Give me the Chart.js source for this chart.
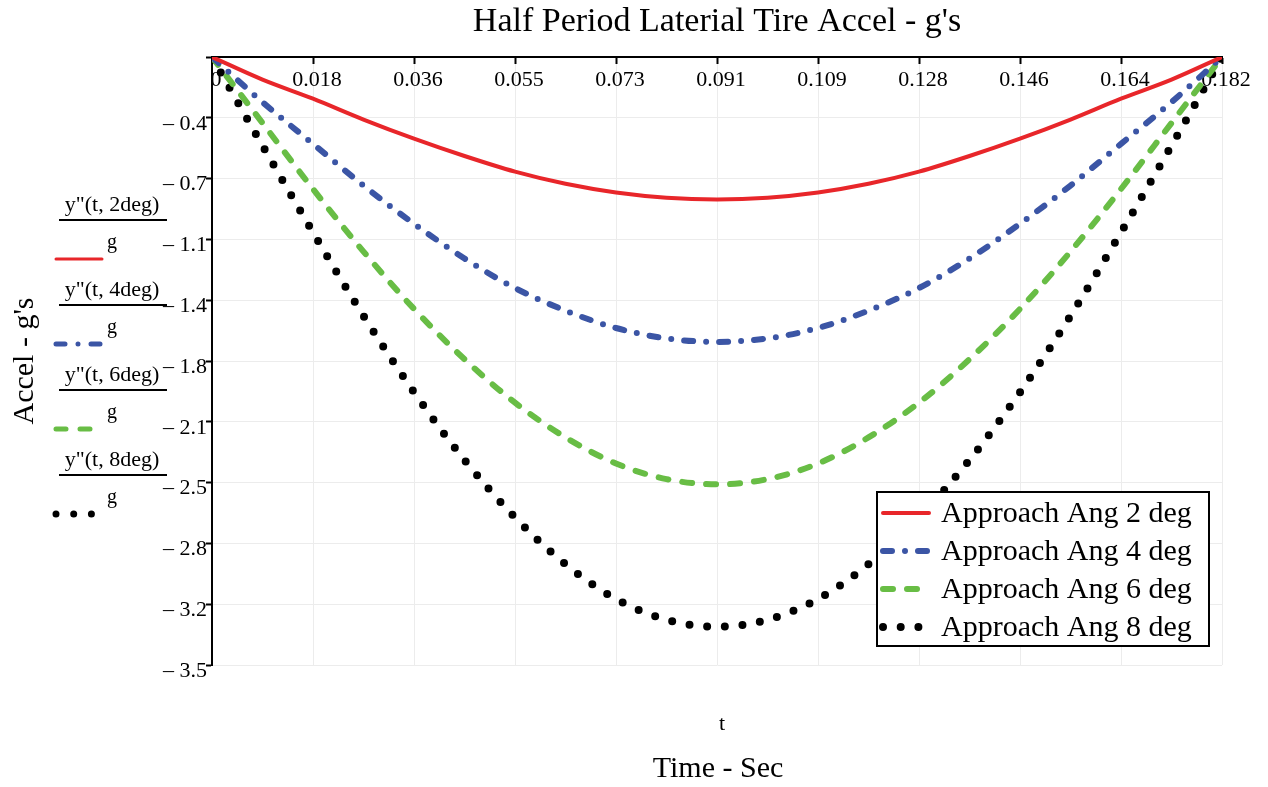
<!DOCTYPE html>
<html>
<head>
<meta charset="utf-8">
<title>Half Period Laterial Tire Accel</title>
<script src="https://cdn.jsdelivr.net/npm/chart.js@4.4.1/dist/chart.umd.min.js"></script>
<style>
  html, body { margin: 0; padding: 0; background: #fff; }
  #wrap { width: 1268px; height: 787px; }
</style>
</head>
<body>
<div id="wrap"><canvas id="accelChart" width="1268" height="787"></canvas></div>
<script>
// sample times (sec) read along the x axis
const timeSec = [0, 0.0091, 0.0182, 0.0273, 0.0364, 0.0455, 0.0546, 0.0637, 0.0728, 0.0819, 0.091,
                 0.1001, 0.1092, 0.1183, 0.1274, 0.1365, 0.1456, 0.1547, 0.1638, 0.1729, 0.182];

// lateral accel in g's
const accel2deg = [0, -0.13, -0.24, -0.36, -0.47, -0.57, -0.66, -0.73, -0.78, -0.81, -0.82,
                   -0.81, -0.78, -0.73, -0.66, -0.57, -0.47, -0.36, -0.24, -0.13, 0];
const accel4deg = [0, -0.26, -0.5, -0.74, -0.96, -1.16, -1.33, -1.46, -1.56, -1.62, -1.64,
                   -1.62, -1.56, -1.46, -1.33, -1.16, -0.96, -0.74, -0.5, -0.26, 0];
const accel6deg = [0, -0.38, -0.76, -1.12, -1.45, -1.74, -1.99, -2.19, -2.34, -2.43, -2.46,
                   -2.43, -2.34, -2.19, -1.99, -1.74, -1.45, -1.12, -0.76, -0.38, 0];
const accel8deg = [0, -0.51, -1.01, -1.49, -1.93, -2.32, -2.65, -2.92, -3.12, -3.24, -3.28,
                   -3.24, -3.12, -2.92, -2.65, -2.32, -1.93, -1.49, -1.01, -0.51, 0];

const seriesLabels  = ['Approach Ang 2 deg', 'Approach Ang 4 deg', 'Approach Ang 6 deg', 'Approach Ang 8 deg'];
const mathcadLabels = ['y"(t, 2deg)', 'y"(t, 4deg)', 'y"(t, 6deg)', 'y"(t, 8deg)'];

const xTickValues = [0, 0.0182, 0.0364, 0.0546, 0.0728, 0.091, 0.1092, 0.1274, 0.1456, 0.1638, 0.182];
const xTickLabels = ['0', '0.018', '0.036', '0.055', '0.073', '0.091', '0.109', '0.128', '0.146', '0.164', '0.182'];
const yTickValues = [0, -0.35, -0.7, -1.05, -1.4, -1.75, -2.1, -2.45, -2.8, -3.15, -3.5];
const yTickLabels = ['', '\u2013 0.4', '\u2013 0.7', '\u2013 1.1', '\u2013 1.4', '\u2013 1.8',
                     '\u2013 2.1', '\u2013 2.5', '\u2013 2.8', '\u2013 3.2', '\u2013 3.5'];

const SERIF = "'Liberation Serif', 'Times New Roman', serif";

const styles = [
  { color: '#e8262a', width: 4, dash: [] },          // solid
  { color: '#3b55a5', width: 6, dash: [9, 13, 0, 13] }, // dash-dot
  { color: '#68bd45', width: 6, dash: [10, 14] },    // dashed
  { color: '#000000', width: 8, dash: [0, 17.7] }    // dotted
];

const allSeries = [accel2deg, accel4deg, accel6deg, accel8deg];
const datasets = allSeries.map((vals, i) => ({
  label: seriesLabels[i],
  data: timeSec.map((t, k) => ({ x: t, y: vals[k] })),
  borderColor: styles[i].color,
  backgroundColor: styles[i].color,
  borderWidth: styles[i].width,
  borderDash: styles[i].dash,
  borderCapStyle: 'round',
  cubicInterpolationMode: 'monotone',
  pointRadius: 0,
  fill: false
}));

function strokeSample(ctx, ds, x1, x2, y, w) {
  ctx.save();
  ctx.strokeStyle = ds.borderColor;
  ctx.lineWidth = w || ds.borderWidth;
  ctx.lineCap = 'round';
  ctx.setLineDash(ds.borderDash || []);
  ctx.beginPath();
  ctx.moveTo(x1, y);
  ctx.lineTo(x2, y);
  ctx.stroke();
  ctx.restore();
}

// mathcad style extras: left trace labels, inner legend box, x axis captions
const decor = {
  id: 'decor',
  afterDraw(chart) {
    const ctx = chart.ctx;
    const area = chart.chartArea;
    const dsets = chart.data.datasets;
    const midX = (area.left + area.right) / 2;
    ctx.save();
    ctx.fillStyle = '#000';
    ctx.textAlign = 'center';
    ctx.textBaseline = 'middle';

    ctx.font = '22px ' + SERIF;
    ctx.fillText('t', midX + 5, area.bottom + 59);
    ctx.font = '30px ' + SERIF;
    ctx.fillText('Time - Sec', midX + 1, area.bottom + 104);

    // left side trace labels
    dsets.forEach((ds, i) => {
      const base = 205 + 85 * i;
      ctx.fillStyle = '#000';
      ctx.font = '22px ' + SERIF;
      ctx.textAlign = 'center';
      ctx.fillText(mathcadLabels[i], 112, base);
      ctx.fillRect(59, base + 14, 108, 2);
      ctx.font = '20px ' + SERIF;
      ctx.fillText('g', 112, base + 38);
      strokeSample(ctx, ds, 56, 102, base + 54, Math.max(3, ds.borderWidth - 1));
    });

    // legend box inside plot
    const bx = area.right - 345, by = area.bottom - 173, bw = 332, bh = 154;
    ctx.fillStyle = '#fff';
    ctx.fillRect(bx, by, bw, bh);
    ctx.strokeStyle = '#000';
    ctx.lineWidth = 2;
    ctx.strokeRect(bx, by, bw, bh);
    ctx.textAlign = 'left';
    ctx.font = '30px ' + SERIF;
    dsets.forEach((ds, i) => {
      const y = by + 21 + 38 * i;
      strokeSample(ctx, ds, bx + 6, bx + 52, y, ds.borderWidth);
      ctx.fillStyle = '#000';
      ctx.fillText(ds.label, bx + 64, y + 1);
    });
    ctx.restore();
  }
};

new Chart(document.getElementById('accelChart'), {
  type: 'line',
  data: { datasets },
  plugins: [decor],
  options: {
    responsive: false,
    animation: false,
    devicePixelRatio: 1,
    layout: { padding: { left: 0, top: 0, right: 46, bottom: 122 } },
    plugins: {
      legend: { display: false },
      tooltip: { enabled: false },
      title: {
        display: true,
        text: "Half Period Laterial Tire Accel - g's",
        color: '#000',
        fullSize: false,
        font: { family: SERIF, size: 34, weight: 'normal', lineHeight: 1.2 },
        padding: { top: 2, bottom: 14.2 }
      }
    },
    scales: {
      x: {
        type: 'linear',
        position: { y: 0 },
        min: 0,
        max: 0.182,
        afterBuildTicks: scale => { scale.ticks = xTickValues.map(v => ({ value: v })); },
        ticks: {
          autoSkip: false,
          maxRotation: 0,
          color: '#000',
          padding: 4,
          labelOffset: 4,
          font: { family: SERIF, size: 22 },
          callback: (v, i) => xTickLabels[i]
        },
        grid: { color: '#ececec', lineWidth: 1, tickColor: '#000', tickLength: 6, tickWidth: 2 },
        border: { color: '#000', width: 2 }
      },
      y: {
        type: 'linear',
        position: 'left',
        min: -3.5,
        max: 0,
        afterFit: scale => { scale.width = 212; },
        afterBuildTicks: scale => { scale.ticks = yTickValues.map(v => ({ value: v })); },
        ticks: {
          autoSkip: false,
          color: '#000',
          padding: -1,
          labelOffset: 6,
          font: { family: SERIF, size: 22 },
          callback: (v, i) => yTickLabels[i]
        },
        title: {
          display: true,
          text: "Accel - g's",
          color: '#000',
          font: { family: SERIF, size: 30, weight: 'normal', lineHeight: 1.2 },
          padding: { top: 7, bottom: 0 }
        },
        grid: { color: '#ececec', lineWidth: 1, tickColor: '#000', tickLength: 6, tickWidth: 2 },
        border: { color: '#000', width: 2 }
      }
    }
  }
});
</script>
</body>
</html>
